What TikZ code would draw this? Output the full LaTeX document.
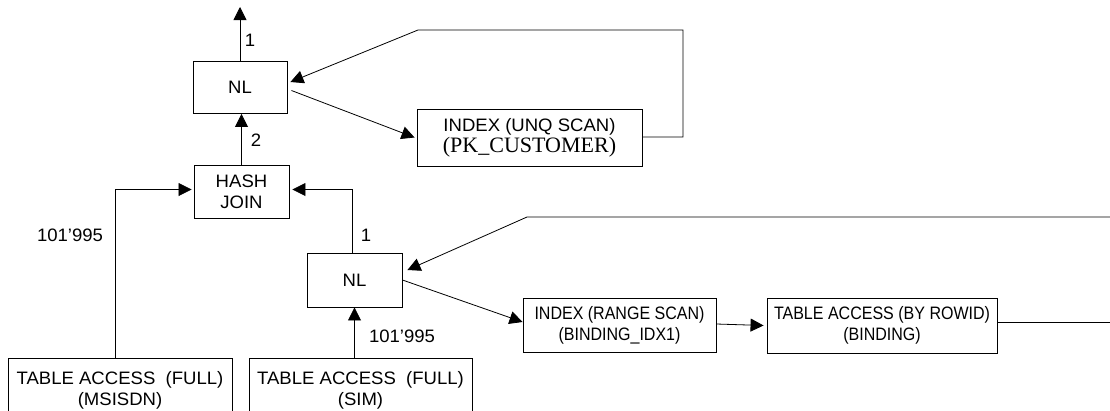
\documentclass[tikz,border=0pt]{standalone}
\usepackage{fontspec}
\setmainfont[FakeStretch=1.03]{Liberation Sans}
\newfontfamily\serifface{Liberation Serif}
\newfontfamily\narrowface[FakeStretch=0.89]{Liberation Sans}
\usetikzlibrary{arrows.meta}
\begin{document}
\begin{tikzpicture}[x=1pt,y=-1pt,
  plan/.style={draw, line width=0.9pt, align=center, inner sep=0pt,
    font=\fontsize{18}{21}\selectfont},
  narrow/.style={font=\fontsize{18}{21}\selectfont\narrowface},
  flow/.style={line width=0.8pt, -{Triangle[length=13pt,width=13pt]}},
  count/.style={inner sep=0pt, font=\fontsize{18}{21}\selectfont}]
\useasboundingbox (0,0) rectangle (1110,410);
\clip (0,0) rectangle (1110,410);

% operators of the plan
\node[plan, minimum width=94pt, minimum height=52pt] (nl1) at (240,87.5) {NL};
\node[plan, minimum width=225pt, minimum height=57pt] (unq) at (529.5,137.5)
  {INDEX (UNQ SCAN)\\{\fontsize{22}{22}\selectfont\serifface (PK\_CUSTOMER)}};
\node[plan, minimum width=95pt, minimum height=53pt] (hj) at (241.5,191.5) {HASH\\JOIN};
\node[plan, minimum width=95pt, minimum height=54pt] (nl2) at (354.5,280) {NL};
\node[plan, narrow, minimum width=193pt, minimum height=54pt] (rng) at (619.5,325)
  {INDEX (RANGE SCAN)\\(BINDING\_IDX1)};
\node[plan, narrow, minimum width=230pt, minimum height=55pt] (rowid) at (882,325.5)
  {TABLE ACCESS (BY ROWID)\\(BINDING)};
\node[plan, anchor=north, minimum width=224pt, inner ysep=13pt] (msisdn) at (120,358)
  {TABLE ACCESS\ \ (FULL)\\(MSISDN)};
\node[plan, anchor=north, minimum width=223pt, inner ysep=13pt] (sim) at (360.5,358)
  {TABLE ACCESS\ \ (FULL)\\(SIM)};

% row counts
\node[count] (c1) at (250,40) {1};
\node[count] (c2) at (256,140) {2};
\node[count] (c3) at (70,235) {101’995};
\node[count] (c4) at (366,235) {1};
\node[count] (c5) at (402,336) {101’995};

% free ends of the connectors
\coordinate (out) at (240,7);
\coordinate (ua) at (683,30);
\coordinate (ub) at (418,30);
\coordinate (ra) at (1120,322.5);
\coordinate (rb) at (1120,217);
\coordinate (rc) at (527,217);

% connectors
\draw[flow] (nl1.north) -- (out);
\draw[flow] (hj.north) -- (hj.north |- nl1.south);
\draw[flow] ([yshift=0.5pt]unq.east) -| (ua) -- (ub) -- ([xshift=3pt,yshift=5.5pt]nl1.east);
\draw[flow] ([xshift=4pt,yshift=-3pt]nl1.east) -- ([xshift=-2pt]unq.west);
\draw[flow] ([xshift=-5pt]msisdn.north) |- ([xshift=-2pt,yshift=2pt]hj.west);
\draw[flow] ([xshift=-2pt]nl2.north) |- ([xshift=3pt,yshift=2pt]hj.east);
\draw[flow] ([yshift=3pt]rowid.east) -- (ra) -- (rb) -- (rc) -- ([xshift=5pt,yshift=10pt]nl2.east);
\draw[flow] (nl2.east) -- ([yshift=3pt]rng.west);
\draw[flow] (nl2.south |- sim.north) -- (nl2.south);
\draw[flow] ([yshift=1pt]rng.east) -- ([xshift=-3pt]rowid.west);
\end{tikzpicture}
\end{document}
